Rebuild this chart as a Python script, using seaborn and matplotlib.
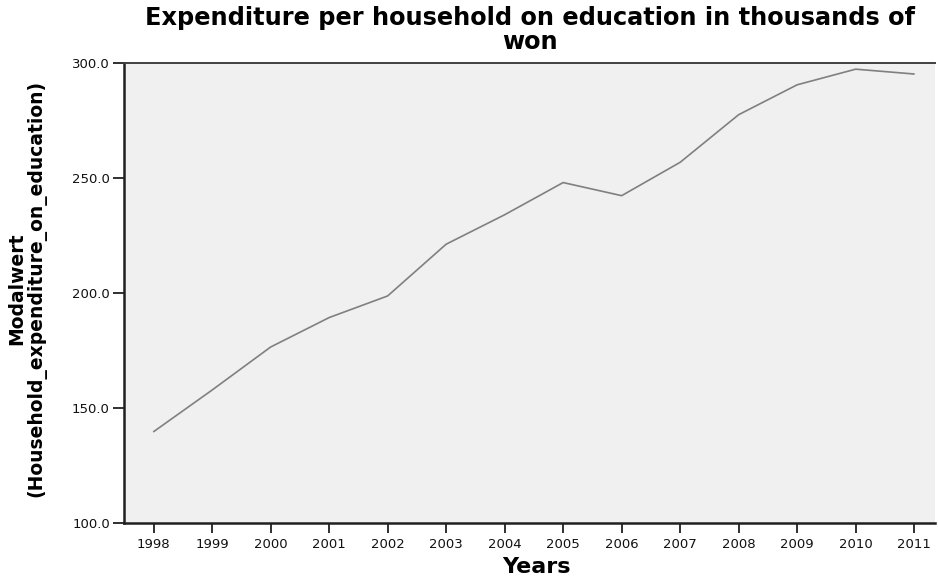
import matplotlib
matplotlib.use("Agg")
import matplotlib.pyplot as plt
import seaborn as sns
import pandas as pd

years = [1998, 1999, 2000, 2001, 2002, 2003, 2004, 2005, 2006, 2007, 2008, 2009, 2010, 2011]
expenditure = [139.7, 157.8, 176.5, 189.3, 198.7, 221.2, 234.0, 248.0, 242.3, 256.8, 277.5, 290.5, 297.3, 295.2]
y_ticks = [100.0, 150.0, 200.0, 250.0, 300.0]

sns.set_theme(style="white")
plt.rcParams['font.family'] = ['DejaVu Sans']
plt.rcParams['text.color'] = 'black'

df = pd.DataFrame({"Year": years, "Value": expenditure})

fig = plt.figure(figsize=(9.38, 5.83), dpi=100)
ax = fig.add_axes([0.132, 0.103, 0.865, 0.789])
ax.set_facecolor("#f0f0f0")

sns.lineplot(data=df, x="Year", y="Value", ax=ax, color="#808080", linewidth=1.2)

ax.set_xlim(1997.49, 2011.36)
ax.set_ylim(100, 300)
ax.set_xticks(years)
ax.set_xticklabels([str(y) for y in years], fontsize=9.5, family="DejaVu Sans")
ax.set_yticks(y_ticks)
ax.set_yticklabels([f"{v:.1f}" for v in y_ticks], fontsize=9.5, family="DejaVu Sans")
ax.tick_params(axis="both", direction="out", width=1.4, color="#303030",
               labelcolor="#111111", bottom=True, left=True)
ax.tick_params(axis="x", length=7, pad=4)
ax.tick_params(axis="y", length=8, pad=2)

for side in ["left", "bottom"]:
    ax.spines[side].set_color("#202020")
    ax.spines[side].set_linewidth(1.8)
ax.spines["top"].set_color("#404040")
ax.spines["top"].set_linewidth(1.4)
ax.spines["right"].set_visible(False)

ax.set_xlabel("Years", fontsize=16, fontweight="bold", family="DejaVu Sans", color="black")
ax.xaxis.set_label_coords(0.508, -0.074)
ax.xaxis.label.set_va("top")
ax.set_ylabel("Modalwert\n(Household_expenditure_on_education)", fontsize=13.5,
              fontweight="bold", family="DejaVu Sans", linespacing=1.0, color="black")
ax.yaxis.set_label_coords(-0.096, 0.51)
ax.set_title("Expenditure per household on education in thousands of\nwon",
             fontsize=17.3, fontweight="bold", family="DejaVu Sans", pad=10,
             linespacing=1.0, color="black")

fig.savefig("out.png", dpi=100, facecolor="white")
